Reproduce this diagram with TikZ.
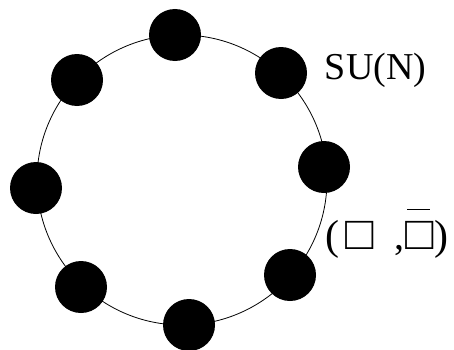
\documentclass[tikz,border=0pt]{standalone}
\usepackage{fontspec}
\setmainfont{Liberation Serif}
\begin{document}
\begin{tikzpicture}[x=1pt,y=1pt,
  dot/.style={circle,fill=black,inner sep=0pt,minimum size=52pt},
  lbl/.style={inner sep=0pt,anchor=base west}]
\useasboundingbox (0,0) rectangle (454,349);
\node[draw,circle,line width=0.8pt,minimum size=290pt,inner sep=0pt] (ring) at (182,169) {};
\node[dot] (n1) at (175,314) {};
\node[dot] (n2) at (281,276) {};
\node[dot] (n3) at (324,182) {};
\node[dot] (n4) at (290,74) {};
\node[dot] (n5) at (189,24) {};
\node[dot] (n6) at (81,62) {};
\node[dot] (n7) at (36,161) {};
\node[dot] (n8) at (77,269) {};
\node[lbl,font=\fontsize{38}{42}\selectfont] (su) at (324.7,270) {SU(N)};
\node[lbl] (rep) at (325,100) {%
\makebox[20pt][l]{\fontsize{42}{46}\selectfont(}%
\makebox[49.6pt][l]{\fontsize{47}{50}\selectfont □}%
\makebox[10.4pt][l]{\fontsize{40}{44}\selectfont ,}%
\makebox[29pt][l]{\makebox[0pt][l]{\hspace{2pt}\raisebox{39pt}{\rule{23pt}{1.3pt}}}\fontsize{47}{50}\selectfont □}%
{\fontsize{42}{46}\selectfont)}};
\end{tikzpicture}
\end{document}
